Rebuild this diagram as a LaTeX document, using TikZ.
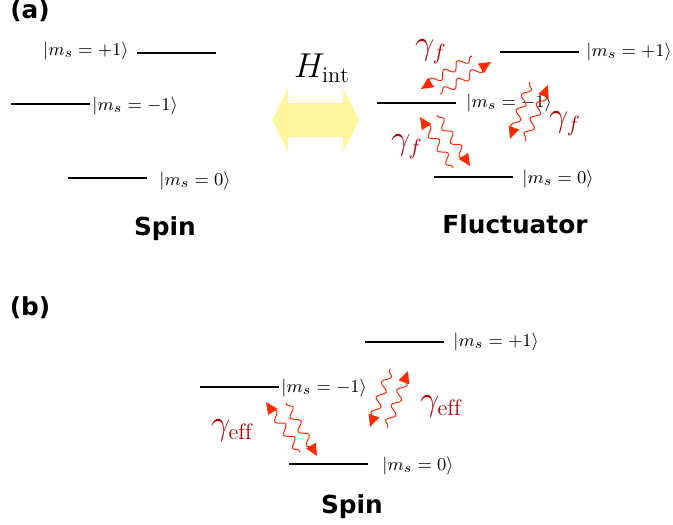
\documentclass[tikz,border=0pt]{standalone}
\usepackage{fontspec}
\setsansfont{DejaVu Sans}
\definecolor{WaveRed}{HTML}{FF2A00}
\definecolor{RateRed}{HTML}{B00000}
\definecolor{CouplingYellow}{HTML}{FFF59D}
\usepackage{tikz}
\usetikzlibrary{arrows.meta, decorations.pathmorphing}

\tikzset{
  level/.style={line width=0.9pt},
  ket/.style={font=\fontsize{9.5}{11}\selectfont, inner sep=0pt},
  heading/.style={font=\fontsize{12.4}{14}\selectfont\sffamily\bfseries, inner sep=0pt, anchor=base},
  rate/.style={font=\fontsize{16}{19}\selectfont, text=RateRed, inner sep=0pt},
  wave/.style={draw=WaveRed, line width=0.5pt, decorate,
    decoration={snake, amplitude=2pt, segment length=8pt, pre length=1pt, post length=4pt},
    -{Triangle[length=6pt, width=5.5pt]}},
}

\begin{document}
\begin{tikzpicture}[x=0.5pt, y=-0.5pt]
      \useasboundingbox (0,0) rectangle (673,524);

      % (a) spin
      \node[heading] (labA) at (30,19) {(a)};
      \draw[level] (137,53) -- (216,53);
      \draw[level] (11,104) -- (90,104);
      \draw[level] (68,178) -- (147,178);
        \node[ket, anchor=east] (sPlus) at (129,51) {$|m_s=+1\rangle$};
        \node[ket, anchor=west] (sMinus) at (92,106) {$|m_s=-1\rangle$};
        \node[ket, anchor=west] (sZero) at (159,181) {$|m_s=0\rangle$};
        \node[heading] (spinA) at (165,235) {Spin};

      % coupling
      \fill[CouplingYellow] (272,120) -- (288,88) -- (288,103) -- (343,103) -- (343,88)
        -- (359,120) -- (343,152) -- (343,137) -- (288,137) -- (288,152) -- cycle;
        \node[font=\fontsize{16}{19}\selectfont, anchor=base, inner sep=0pt] (hint) at (322,77) {$H_{\rm int}$};

      % (a) fluctuator
      \draw[level] (500,52) -- (579,52);
      \draw[level] (377,103) -- (456,103);
      \draw[level] (434,177) -- (513,177);
        \node[ket, anchor=west] (fPlus) at (586,52) {$|m_s=+1\rangle$};
        \node[ket, anchor=west] (fMinus) at (466,103) {$|m_s=-1\rangle$};
        \node[ket, anchor=west] (fZero) at (522,179) {$|m_s=0\rangle$};
        \node[heading] (fluct) at (515,233) {Fluctuator};

      \coordinate (fa1) at (472,56);  \coordinate (fa2) at (421,89);
      \coordinate (fb1) at (440,94);  \coordinate (fb2) at (491,62);
      \coordinate (fc1) at (530,82);  \coordinate (fc2) at (510,139);
      \coordinate (fd1) at (525,141); \coordinate (fd2) at (548,85);
      \coordinate (fe1) at (453,168); \coordinate (fe2) at (420,117);
      \coordinate (ff1) at (437,115); \coordinate (ff2) at (470,166);
      \draw[wave] (fa1) -- (fa2);
      \draw[wave] (fb1) -- (fb2);
      \draw[wave] (fc1) -- (fc2);
      \draw[wave] (fd1) -- (fd2);
      \draw[wave] (fe1) -- (fe2);
      \draw[wave] (ff1) -- (ff2);
        \node[rate] (gTop) at (431,52) {$\gamma_f$};
        \node[rate] (gRight) at (565,124) {$\gamma_f$};
        \node[rate] (gLeft) at (407,147) {$\gamma_f$};

      % (b) effective spin
      \node[heading] (labB) at (30,315) {(b)};
      \draw[level] (365,342) -- (444,342);
      \draw[level] (200,387) -- (279,387);
      \draw[level] (289,464) -- (368,464);
        \node[ket, anchor=west] (ePlus) at (453,342) {$|m_s=+1\rangle$};
        \node[ket, anchor=west] (eMinus) at (281,388) {$|m_s=-1\rangle$};
        \node[ket, anchor=west] (eZero) at (382,466) {$|m_s=0\rangle$};
        \node[heading] (spinB) at (352,513) {Spin};

      \coordinate (ea1) at (300,452); \coordinate (ea2) at (266,402);
      \coordinate (eb1) at (286,403); \coordinate (eb2) at (317,456);
      \coordinate (ec1) at (390,369); \coordinate (ec2) at (370,427);
      \coordinate (ed1) at (387,428); \coordinate (ed2) at (408,371);
      \draw[wave] (ea1) -- (ea2);
      \draw[wave] (eb1) -- (eb2);
      \draw[wave] (ec1) -- (ec2);
      \draw[wave] (ed1) -- (ed2);
        \node[rate] (gEffL) at (232,430) {$\gamma_{\rm eff}$};
        \node[rate] (gEffR) at (441,406) {$\gamma_{\rm eff}$};
      \end{tikzpicture}
\end{document}
